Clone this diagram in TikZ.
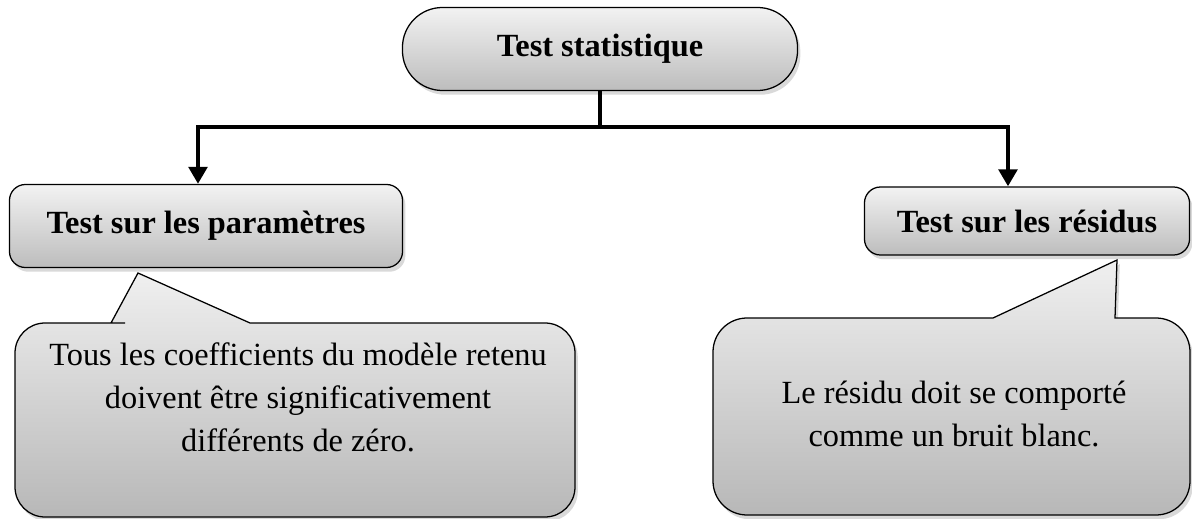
\documentclass[tikz,border=0pt]{standalone}
\usepackage{fontspec}
\setmainfont{Liberation Serif}
\usetikzlibrary{arrows.meta,shadows}

\tikzset{
    box/.style={draw=black, line width=0.9pt, top color=black!5, bottom color=black!26,
        drop shadow={shadow xshift=2pt, shadow yshift=-3pt, opacity=0.3},
        inner sep=0pt, font=\fontsize{23}{29}\selectfont\bfseries},
    bubble/.style={draw=black, line width=0.9pt, top color=black!6, bottom color=black!28,
        drop shadow={shadow xshift=2pt, shadow yshift=-3pt, opacity=0.3}},
    bubbletext/.style={align=center, font=\fontsize{23}{30.5}\selectfont},
    link/.style={line width=3.5pt},
    arrow/.style={link, -{Triangle[width=13pt,length=12pt]}}
}

\begin{document}
            \begin{tikzpicture}[x=0.025cm, y=-0.025cm]
                \useasboundingbox (0,0) rectangle (1192,519);

                \node[box, rounded corners=1cm, minimum width=9.875cm, minimum height=2.075cm] (T) at (600, 49) {Test statistique};
                \node[box, rounded corners=0.4cm, minimum width=9.825cm, minimum height=2.075cm] (B1) at (206, 226) {Test sur les paramètres};
                \node[box, rounded corners=0.4cm, minimum width=8.125cm, minimum height=1.7cm] (B2) at (1027, 221) {Test sur les résidus};

                % bulles
                \draw[bubble] (250,323) -- (400,323) [rounded corners=0.75cm] -- (575,323) -- (575,517) -- (15,517) -- (15,323) -- (95,323) [sharp corners] -- (111,323) -- (138,273) -- cycle;
                \draw[bubble] (1115,318) -- (1140,318) [rounded corners=0.85cm] -- (1190,318) -- (1190,515) -- (713,515) -- (713,318) -- (900,318) [sharp corners] -- (993,318) -- (1117,260) -- cycle;

                \node[bubbletext] (C1) at (298, 397) {Tous les coefficients du modèle retenu\\doivent être significativement\\différents de zéro.};
                \node[bubbletext] (C2) at (954, 414) {Le résidu doit se comporté\\comme un bruit blanc.};

                \coordinate (J) at (600, 127);
                \draw[link] (T.south) -- (J);
                \draw[arrow] (J) -| ([xshift=-0.2cm]B1.north);
                \draw[arrow] (J) -| ([xshift=-0.475cm]B2.north);
            \end{tikzpicture}
\end{document}
